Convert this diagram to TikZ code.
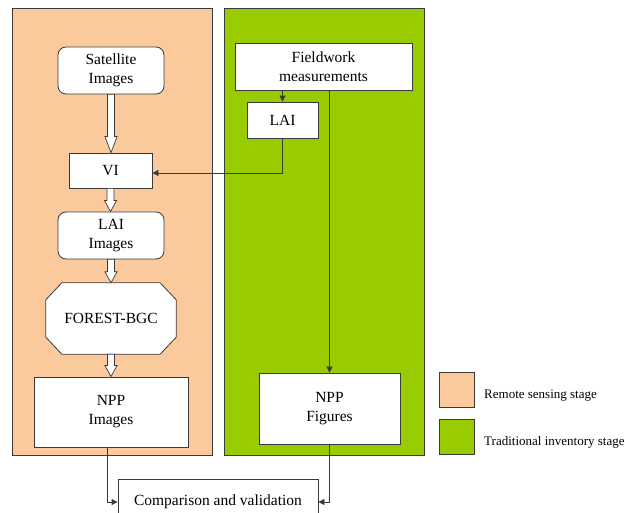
\documentclass[tikz,border=0pt]{standalone}
\usepackage{fontspec}
\setmainfont{Liberation Serif}
\usetikzlibrary{calc,arrows.meta}
\definecolor{rsfill}{HTML}{FACA9C}
\definecolor{tifill}{HTML}{99CC00}
\definecolor{edge}{HTML}{3A3A3A}

% hollow block arrow between two stacked nodes: #1 from, #2 to, #3 head length
\newcommand\blockarrow[3]{%
  \draw[edge, fill=white, line width=0.7pt, line join=miter]
    let \p1=(#1.south), \p2=(#2.north) in
    (\x1-3.5pt,\y1) -- (\x1+3.5pt,\y1) -- (\x1+3.5pt,\y2+#3) -- (\x1+6pt,\y2+#3)
    -- (\x1,\y2) -- (\x1-6pt,\y2+#3) -- (\x1-3.5pt,\y2+#3) -- cycle;}

\begin{document}
\begin{tikzpicture}[x=1pt,y=-1pt,
  panel/.style={draw=edge, line width=0.8pt, inner sep=0, minimum width=200, minimum height=447},
  box/.style={draw=edge, fill=white, line width=0.8pt, align=center, inner sep=0,
              font=\fontsize{15.5}{19}\selectfont},
  rbox/.style={box, rounded corners=8pt},
  flow/.style={draw=edge, line width=0.8pt, -{Triangle[length=6pt,width=6pt]}},
  swatch/.style={draw=edge, line width=0.8pt, minimum width=35, minimum height=35, inner sep=0},
  legtext/.style={anchor=west, inner sep=0, font=\fontsize{13}{15}\selectfont}]
\useasboundingbox (0,0) rectangle (625,513);

% stage panels
\node[panel, fill=rsfill] (rs) at (112,231.5) {};
\node[panel, fill=tifill] (ti) at (324,231.5) {};

% remote sensing chain
\node[rbox, minimum width=106, minimum height=47] (sat) at (111,70.5) {Satellite\\Images};
\node[box, minimum width=83, minimum height=35] (vi) at (110.5,170.5) {VI};
\node[rbox, minimum width=106, minimum height=47] (laiimg) at (111,235.5) {LAI\\Images};
\node[minimum width=130, minimum height=71, inner sep=0] (forest) at (111,318.5) {};
\draw[edge, fill=white, line width=0.8pt]
  ($(forest.north west)+(16,0)$) -- ($(forest.north east)+(-16,0)$)
  -- ($(forest.north east)+(0,17)$) -- ($(forest.south east)+(0,-17)$)
  -- ($(forest.south east)+(-16,0)$) -- ($(forest.south west)+(16,0)$)
  -- ($(forest.south west)+(0,-17)$) -- ($(forest.north west)+(0,17)$) -- cycle;
\node[font=\fontsize{15.5}{19}\selectfont] at (forest) {FOREST-BGC};
\node[box, minimum width=154, minimum height=70] (nppimg) at (111,412) {NPP\\Images};

% traditional inventory chain
\node[box, minimum width=177, minimum height=47] (field) at (323.5,66.5) {Fieldwork\\measurements};
\node[box, minimum width=71, minimum height=36] (lai) at (282.5,120) {LAI};
\node[box, minimum width=141, minimum height=71] (nppfig) at (329.5,408.5) {NPP\\Figures};

% final step
\node[box, minimum width=200, minimum height=46] (cmp) at (218,502) {Comparison and validation};

% block arrows
\blockarrow{sat}{vi}{16pt}
\blockarrow{vi}{laiimg}{11pt}
\blockarrow{laiimg}{forest}{11pt}
\blockarrow{forest}{nppimg}{11pt}

% line connectors
\draw[flow] (field.south -| lai.north) -- (lai.north);
\coordinate (vin) at ($(vi.east)+(0,2.5)$);
\draw[flow] (lai.south) |- (vin);
\draw[flow] (field.south -| nppfig.north) -- (nppfig.north);
\draw[flow] ([xshift=-4]nppimg.south) |- (cmp.west);
\draw[flow] (nppfig.south) |- (cmp.east);

% legend
\node[swatch, fill=rsfill] (leg1) at (457,389.5) {};
\node[swatch, fill=tifill] (leg2) at (457,436.5) {};
\node[legtext] at (484,396) {Remote sensing stage};
\node[legtext] at (484,442) {Traditional inventory stage};
\end{tikzpicture}
\end{document}
